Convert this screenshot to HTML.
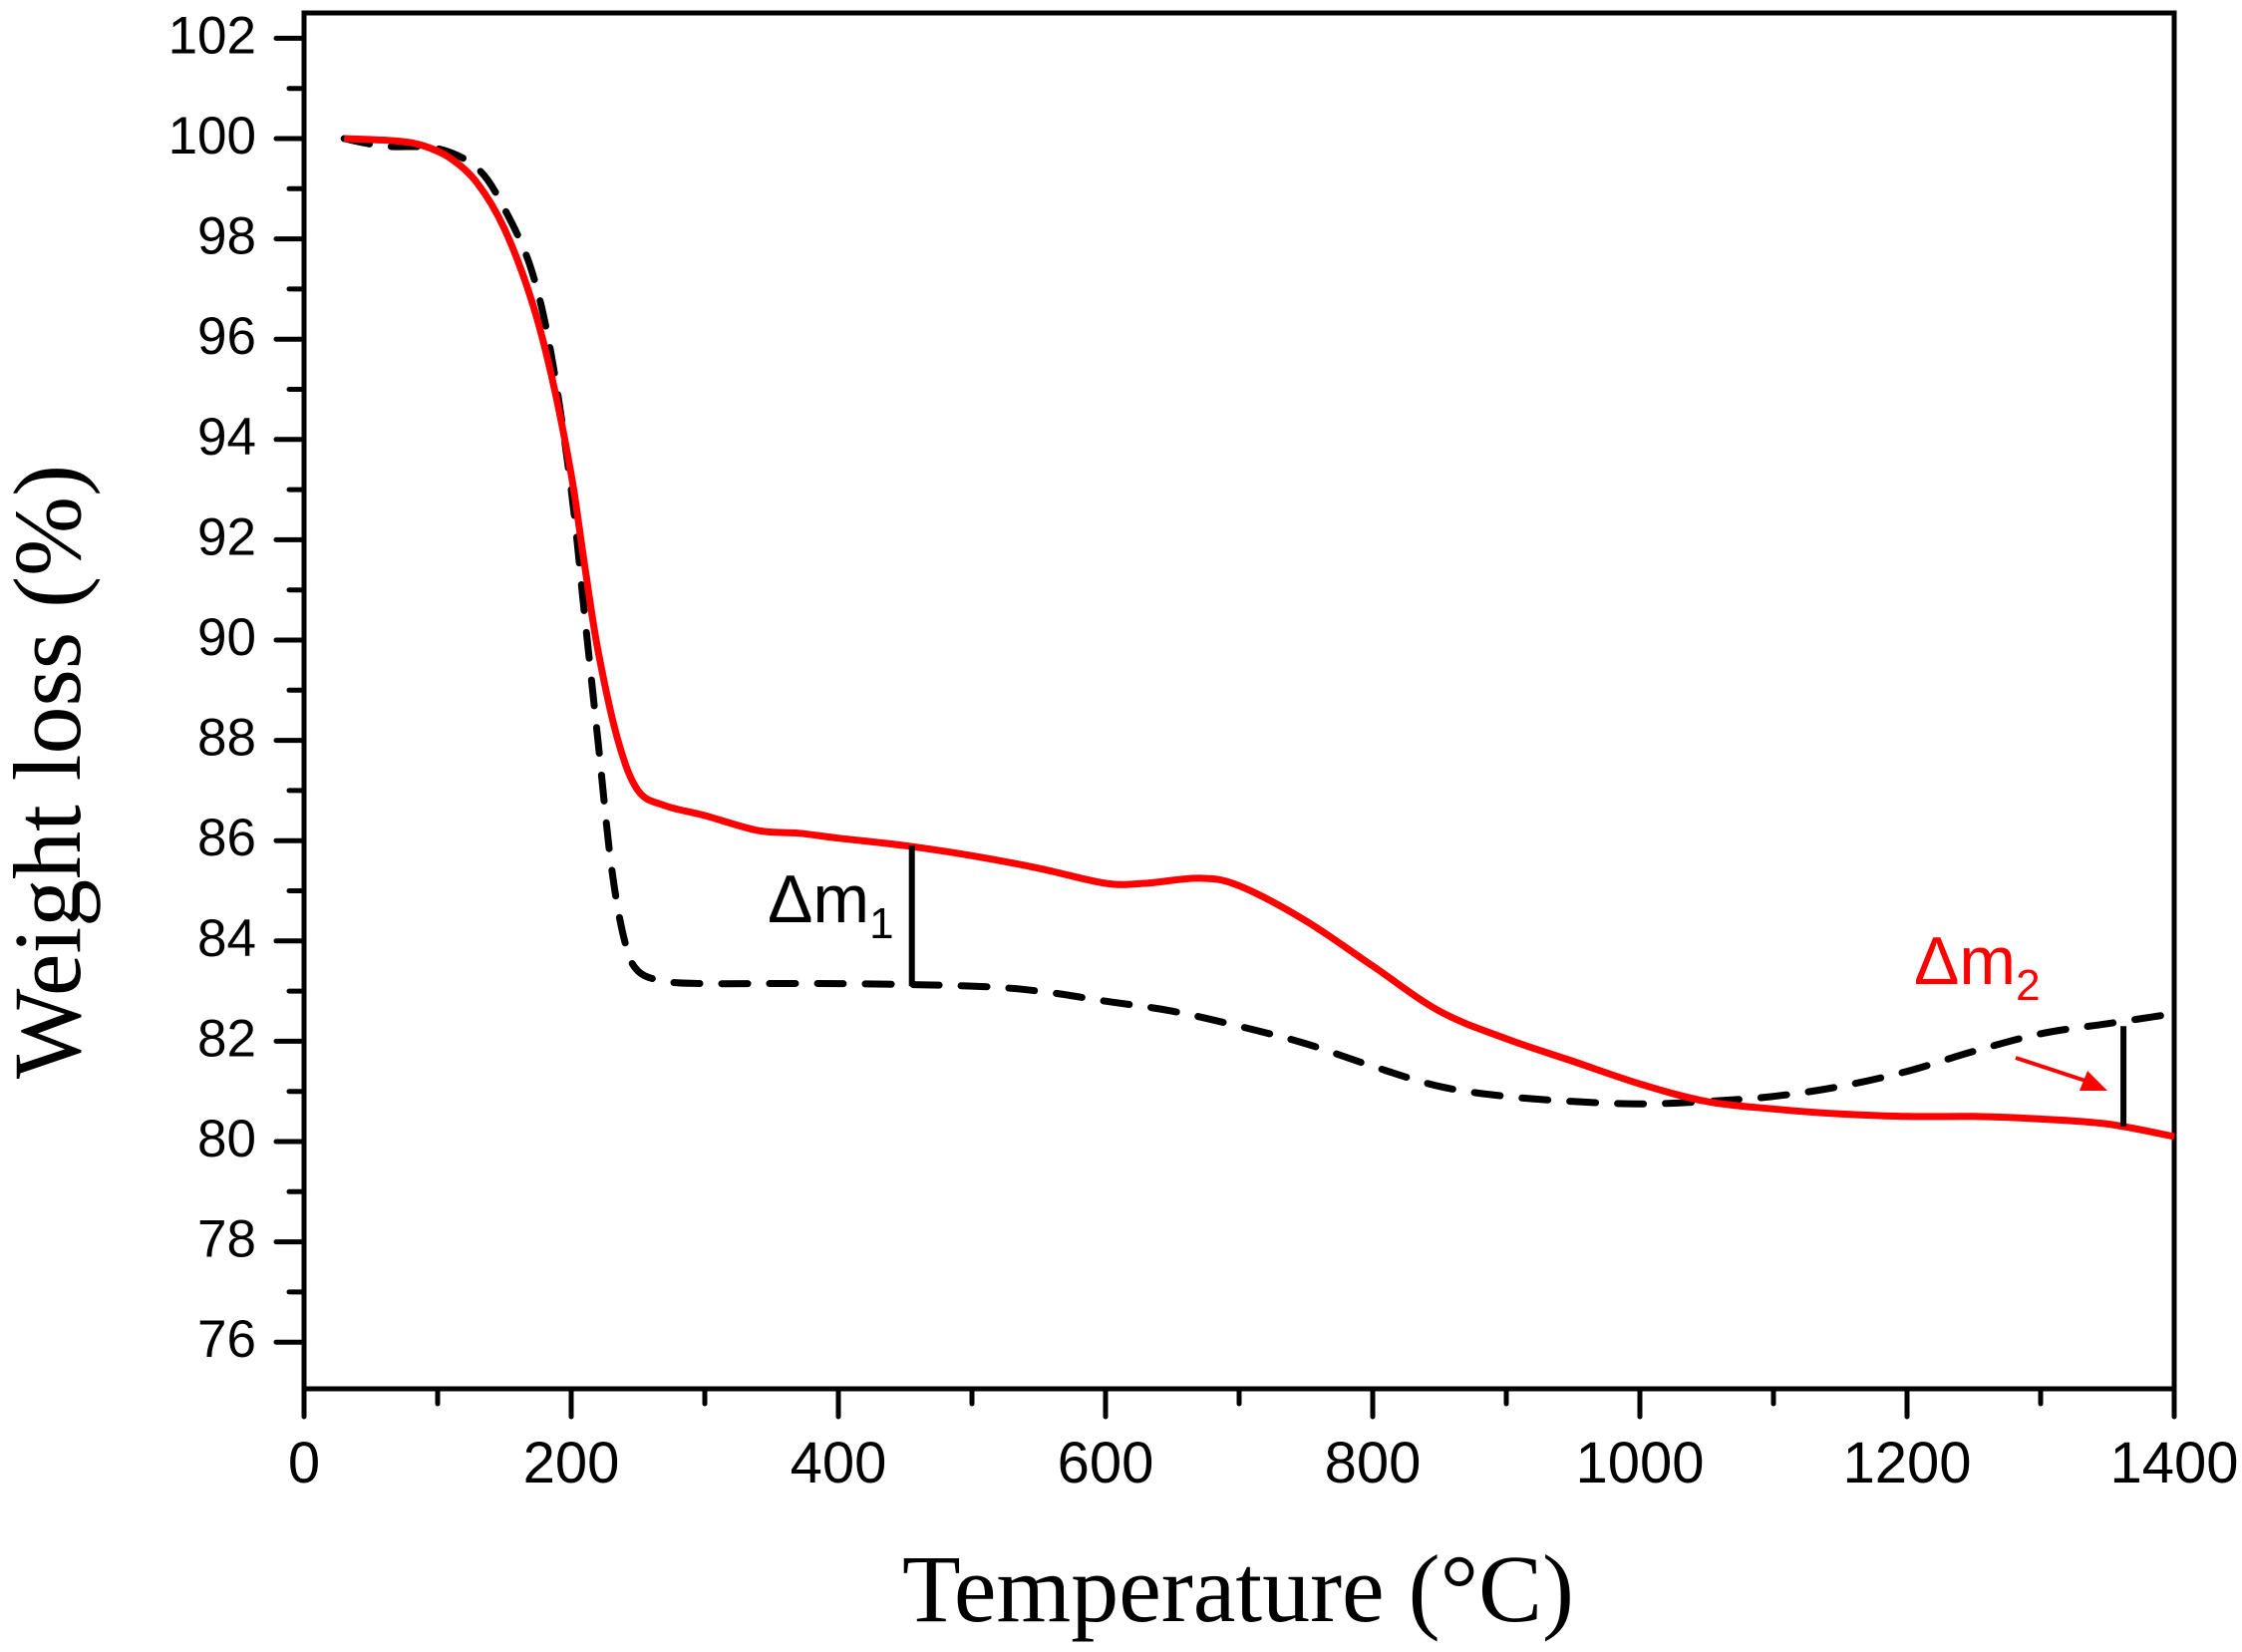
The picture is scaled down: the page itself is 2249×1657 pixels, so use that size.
<!DOCTYPE html>
<html><head><meta charset="utf-8"><style>html,body{margin:0;padding:0;background:#fff}svg{display:block}</style></head>
<body>
<svg id="chart" xmlns="http://www.w3.org/2000/svg" width="2249" height="1657" viewBox="0 0 2249 1657">
<rect width="2249" height="1657" fill="#fff"/>
<g id="plot"></g>
</svg>
<script>
const redT=[30,70,90,110,130,150,170,185,200,210,220,235,250,270,300,340,370,400,450,500,550,600,630,670,700,750,800,850,900,950,1000,1050,1100,1150,1200,1250,1300,1350,1400];
const redW=[100,99.95,99.85,99.6,99.1,98.2,96.8,95.3,93.3,91.5,89.8,88,87,86.7,86.5,86.2,86.15,86.05,85.9,85.7,85.45,85.15,85.15,85.25,85.1,84.4,83.5,82.6,82.05,81.6,81.15,80.8,80.65,80.55,80.5,80.5,80.45,80.35,80.1];
const blkT=[30,60,100,130,150,170,185,200,210,220,230,240,250,270,300,400,500,550,600,650,700,750,800,850,900,950,1000,1050,1100,1150,1200,1250,1300,1350,1400];
const blkW=[100,99.85,99.8,99.4,98.6,97.4,95.7,93,90.5,88,85.5,84,83.4,83.2,83.15,83.15,83.1,83.0,82.8,82.6,82.3,81.95,81.5,81.1,80.9,80.8,80.75,80.8,80.9,81.1,81.4,81.8,82.15,82.35,82.55];
const xTicks=[0,200,400,600,800,1000,1200,1400];
const yTicks=[76,78,80,82,84,86,88,90,92,94,96,98,100,102];
const dm1=[455,83.1,85.9];
const dm2=[1362,80.3,82.3];

const L=305,R=2181,T=13,B=1393;
const X=t=>L+(t-0)*(R-L)/1400;
const Y=v=>139+(100-v)*50.3;
const NS='http://www.w3.org/2000/svg';
const g=document.getElementById('plot');
function mk(tag,attrs,parent){const e=document.createElementNS(NS,tag);for(const k in attrs)e.setAttribute(k,attrs[k]);(parent||g).appendChild(e);return e;}

const fr=mk('rect',{x:L,y:T,width:R-L,height:B-T,fill:'none',stroke:'#000','stroke-width':5});



for(let t=0;t<=1400;t+=100){
  const major=t%200===0;
  const tk=mk('line',{x1:X(t),x2:X(t),y1:B,y2:B+(major?28:15),stroke:'#000','stroke-width':5,'stroke-linecap':'round'});
  
  
}
xTicks.forEach(t=>{
  const tx=mk('text',{x:X(t),y:1487,'text-anchor':'middle','font-family':'Liberation Sans, sans-serif','font-size':58});
  tx.textContent=t;
  
  
});
for(let v=76;v<=102;v+=1){
  const major=v%2===0;
  const tk=mk('line',{x1:L,x2:L-(major?28:15),y1:Y(v),y2:Y(v),stroke:'#000','stroke-width':5,'stroke-linecap':'round'});
  
  
}
yTicks.forEach(v=>{
  const tx=mk('text',{x:257,y:Y(v)+15,'text-anchor':'end','font-family':'Liberation Sans, sans-serif','font-size':53});
  tx.textContent=v;
  
  
});

function path(ts,ws){
  const p=ts.map((t,i)=>[X(t),Y(ws[i])]);
  let d='M'+p[0][0].toFixed(1)+','+p[0][1].toFixed(1);
  for(let i=0;i<p.length-1;i++){
    const p0=p[Math.max(i-1,0)],p1=p[i],p2=p[i+1],p3=p[Math.min(i+2,p.length-1)];
    const c1=[p1[0]+(p2[0]-p0[0])/6,p1[1]+(p2[1]-p0[1])/6];
    const c2=[p2[0]-(p3[0]-p1[0])/6,p2[1]-(p3[1]-p1[1])/6];
    d+='C'+c1.map(v=>v.toFixed(1)).join(',')+' '+c2.map(v=>v.toFixed(1)).join(',')+' '+p2[0].toFixed(1)+','+p2[1].toFixed(1);
  }
  return d;
}
const bl=mk('path',{d:path(blkT,blkW),fill:'none',stroke:'#000','stroke-width':7,'stroke-dasharray':'26,22','stroke-linejoin':'round','stroke-linecap':'round'});


const rd=mk('path',{d:path(redT,redW),fill:'none',stroke:'#ff0000','stroke-width':7,'stroke-linejoin':'round'});



const l1=mk('line',{x1:X(dm1[0]),x2:X(dm1[0]),y1:Y(dm1[1]),y2:Y(dm1[2]),stroke:'#000','stroke-width':6});


const l2=mk('line',{x1:X(dm2[0]),x2:X(dm2[0]),y1:Y(dm2[1]),y2:Y(dm2[2]),stroke:'#000','stroke-width':6});


const ar=mk('line',{x1:2022,y1:1061,x2:2098,y2:1086,stroke:'#ff0000','stroke-width':4});


const ah=mk('polygon',{points:'2114,1094 2086,1094 2094,1074',fill:'#ff0000'});


</script>
<svg style="position:absolute;left:0;top:0" width="2249" height="1657">
<text x="770" y="925" font-family="Liberation Sans, sans-serif" font-size="68">Δm<tspan font-size="44" dy="16">1</tspan></text>
<text x="1920" y="987" fill="#ff0000" font-family="Liberation Sans, sans-serif" font-size="68">Δm<tspan font-size="44" dy="16">2</tspan></text>
<text x="1242" y="1626" text-anchor="middle" font-family="Liberation Serif, serif" font-size="96">Temperature (°C)</text>
<text transform="translate(80,774) rotate(-90)" text-anchor="middle" font-family="Liberation Serif, serif" font-size="96">Weight loss (%)</text>
</svg>
</body></html>
